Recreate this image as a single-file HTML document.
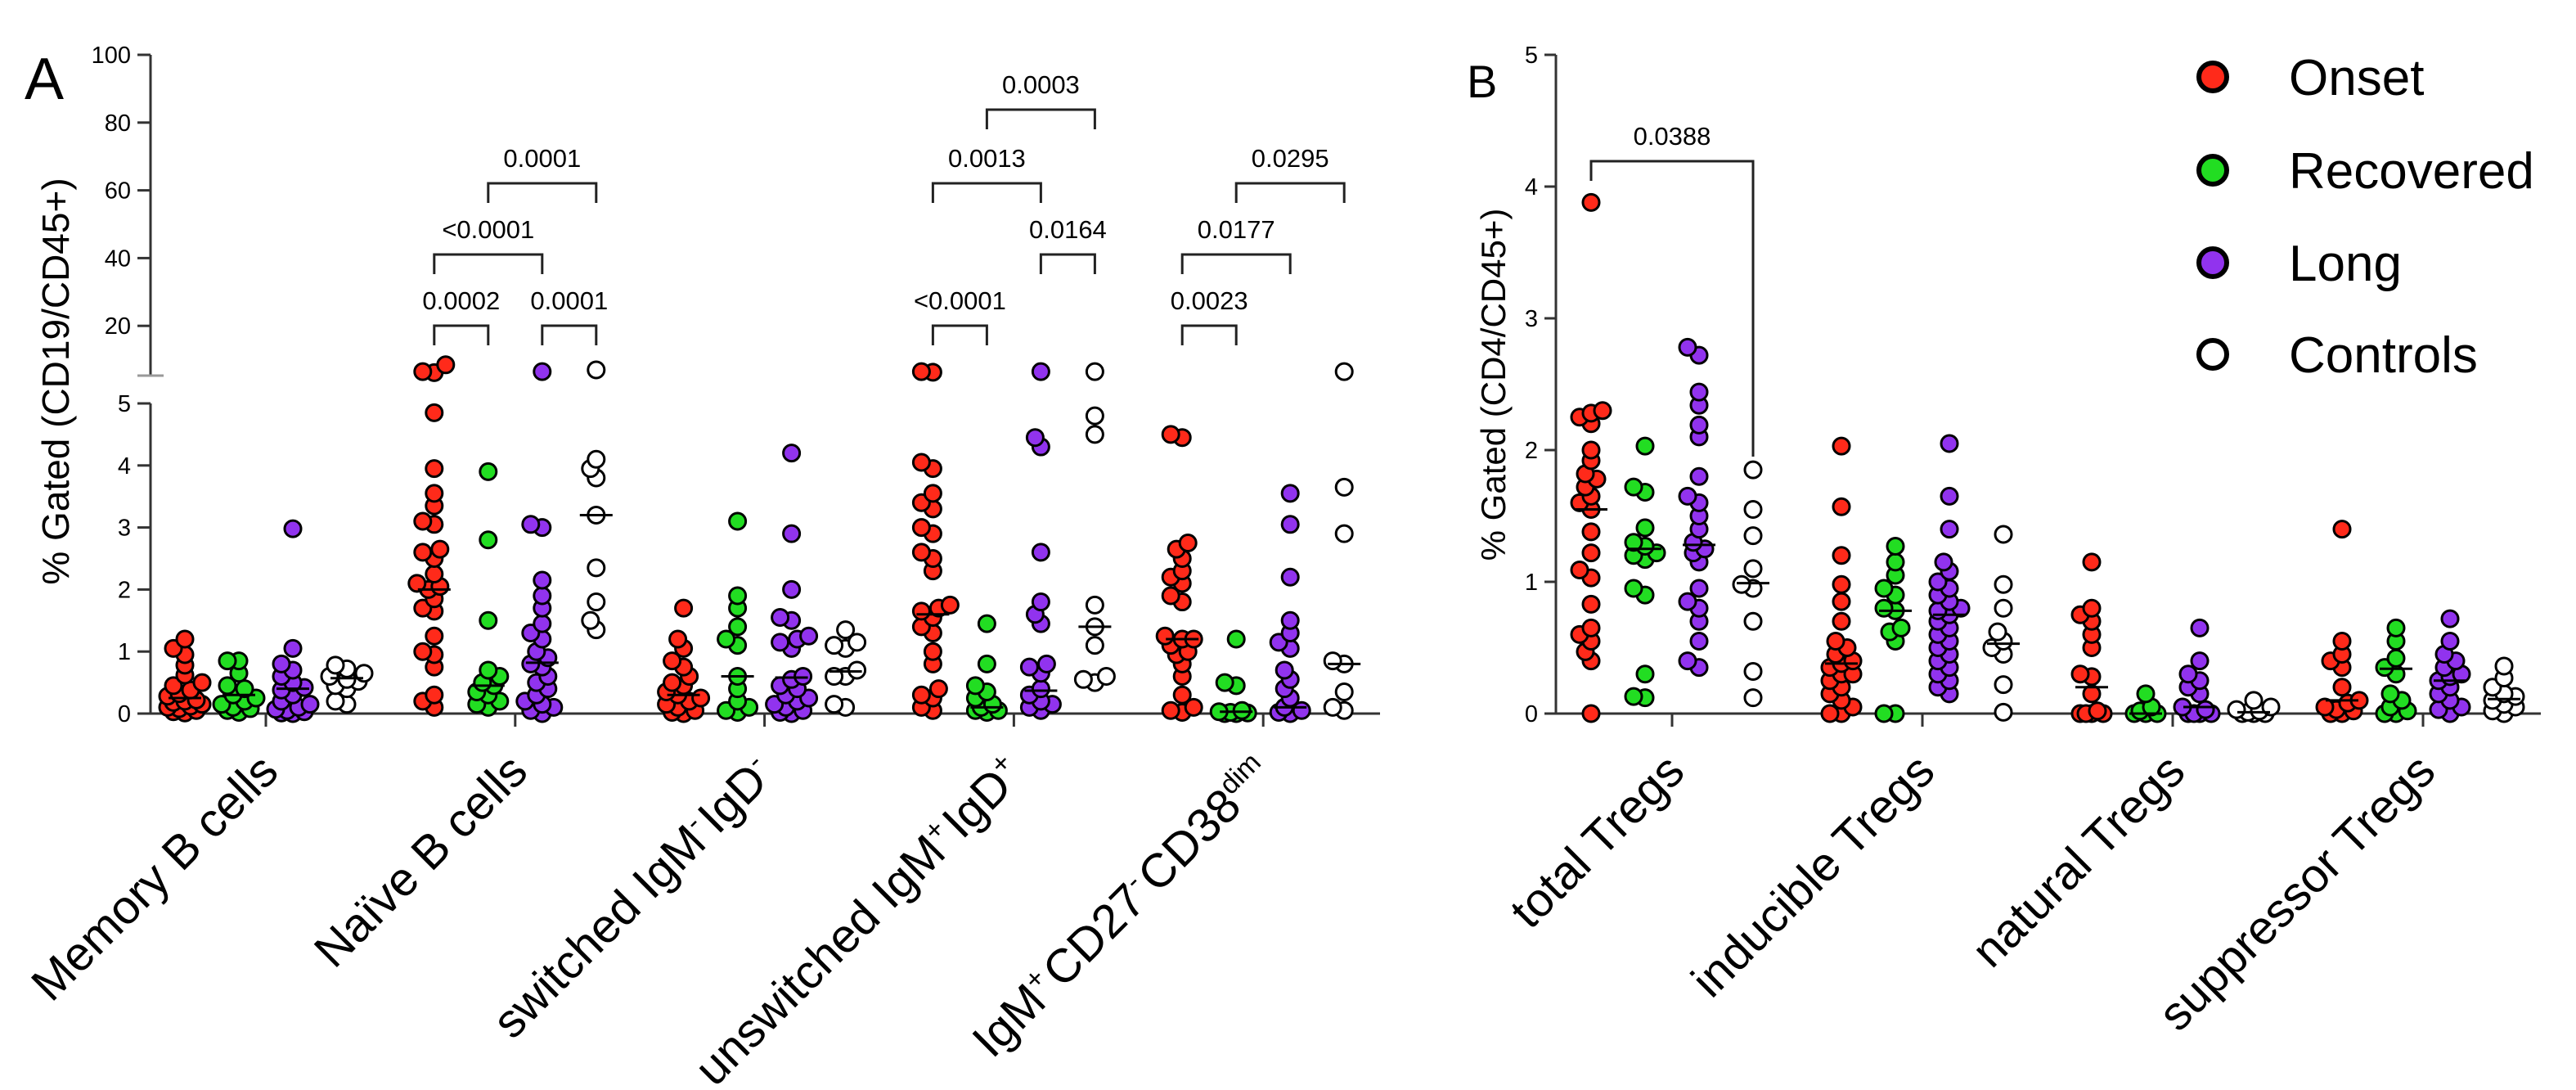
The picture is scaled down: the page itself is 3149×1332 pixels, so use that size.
<!DOCTYPE html>
<html><head><meta charset="utf-8"><style>
html,body{margin:0;padding:0;background:#fff;}
svg{display:block;font-family:"Liberation Sans",Arial,sans-serif;}
</style></head><body>
<svg id="chart" width="3149" height="1332" viewBox="0 0 3149 1332" xmlns="http://www.w3.org/2000/svg">
<rect width="3149" height="1332" fill="#fff"/>
<g id="gA"></g>
<g id="gB"></g>
</svg>
<script>
// ---------- DATA ----------
const groups = ["Onset","Recovered","Long","Controls"];
const groupColors = ["#ff2a1a","#22dd22","#9133ee","#ffffff"];
const catsA = ["Memory B cells","Naïve B cells","switched IgM-IgD-","unswitched IgM+IgD+","IgM+CD27-CD38dim"];
const catsB = ["total Tregs","inducible Tregs","natural Tregs","suppressor Tregs"];
const ticksALow = [0,1,2,3,4,5];
const ticksAHigh = [20,40,60,80,100];
const ticksB = [0,1,2,3,4,5];
// Panel A values [category][group]
const memoryB = [[1.2,1.05,0.95,0.78,0.62,0.5,0.45,0.38,0.32,0.28,0.22,0.18,0.15,0.12,0.1,0.08,0.05,0.03,0.01,0.2],
 [0.85,0.85,0.65,0.45,0.4,0.3,0.25,0.2,0.15,0.1,0.08,0.05,0.02],
 [2.98,1.05,0.8,0.7,0.6,0.5,0.42,0.38,0.3,0.2,0.15,0.1,0.07,0.05,0.03,0.01,0.0],
 [0.78,0.72,0.65,0.6,0.55,0.52,0.45,0.4,0.2,0.15]];
const naiveB = [[8.5,6.5,6.2,4.85,3.95,3.55,3.35,3.1,3.05,2.65,2.6,2.5,2.25,2.1,2.05,2.0,1.85,1.7,1.65,1.25,1.0,0.95,0.75,0.3,0.2,0.1],
 [3.9,2.8,1.5,0.7,0.6,0.5,0.45,0.35,0.3,0.2,0.15,0.1],
 [6.5,3.05,3.0,2.15,1.9,1.7,1.45,1.3,1.2,1.0,0.9,0.8,0.75,0.6,0.5,0.4,0.3,0.2,0.15,0.1,0.05,0.0],
 [7.0,4.1,3.95,3.8,3.2,2.35,1.8,1.5,1.35]];
const switchedB = [[1.7,1.2,1.05,0.85,0.75,0.6,0.5,0.45,0.35,0.3,0.25,0.2,0.15,0.1,0.05,0.02,0.0],
 [3.1,1.9,1.7,1.4,1.2,1.1,0.6,0.4,0.2,0.1,0.05,0.02],
 [4.2,2.9,2.0,1.55,1.5,1.25,1.2,1.15,1.05,0.6,0.55,0.45,0.4,0.3,0.25,0.2,0.15,0.1,0.05,0.02,0.0],
 [1.35,1.15,1.1,1.05,0.7,0.6,0.6,0.15,0.1]];
const unswitchedB = [[6.5,6.3,4.05,3.95,3.55,3.4,3.3,3.0,2.9,2.6,2.5,2.3,1.75,1.7,1.65,1.55,1.4,1.3,1.0,0.8,0.4,0.3,0.25,0.1,0.05],
 [1.45,0.8,0.45,0.35,0.25,0.15,0.1,0.05,0.05,0.02],
 [6.5,4.45,4.3,2.6,1.8,1.6,1.45,0.8,0.75,0.65,0.4,0.3,0.2,0.15,0.1,0.05],
 [6.5,4.8,4.5,1.75,1.4,1.1,0.6,0.55,0.5]];
const igmB = [[4.5,4.45,2.75,2.65,2.5,2.3,2.2,2.1,1.9,1.8,1.25,1.2,1.2,1.1,1.0,0.95,0.8,0.6,0.3,0.1,0.05,0.02],
 [1.2,0.5,0.45,0.05,0.03,0.02,0.01,0.0,0.0],
 [3.55,3.05,2.2,1.5,1.3,1.15,1.05,0.7,0.55,0.4,0.25,0.1,0.05,0.02,0.0],
 [6.5,3.65,2.9,0.85,0.8,0.35,0.1,0.05]];
const mediansA = [[0.25,0.3,0.4,0.57],[2.0,0.45,0.82,3.2],[0.3,0.6,0.58,0.68],[1.6,0.1,0.37,1.4],[1.2,0.03,0.1,0.8]];
// Panel B values
const totalT = [[3.88,2.3,2.28,2.25,2.2,2.0,1.92,1.82,1.78,1.72,1.65,1.6,1.55,1.38,1.22,1.09,1.03,0.83,0.65,0.6,0.55,0.47,0.4,0.0],
 [2.03,1.72,1.68,1.41,1.3,1.27,1.22,1.2,1.17,0.95,0.9,0.3,0.13,0.12],
 [2.78,2.72,2.44,2.34,2.19,2.1,1.8,1.65,1.6,1.5,1.4,1.3,1.25,1.22,1.15,0.95,0.85,0.8,0.7,0.55,0.4,0.35],
 [1.85,1.55,1.35,1.1,0.98,0.95,0.7,0.32,0.12]];
const inducibleT = [[2.03,1.57,1.2,0.98,0.85,0.7,0.55,0.5,0.45,0.4,0.38,0.35,0.3,0.3,0.25,0.2,0.15,0.1,0.05,0.0,0.0],
 [1.27,1.15,1.05,0.95,0.9,0.8,0.78,0.65,0.62,0.55,0.0,0.0],
 [2.05,1.65,1.4,1.15,1.08,1.0,0.95,0.9,0.85,0.8,0.78,0.75,0.7,0.65,0.6,0.55,0.5,0.45,0.4,0.35,0.3,0.25,0.2,0.15],
 [1.36,0.98,0.8,0.62,0.55,0.5,0.45,0.22,0.01]];
const naturalT = [[1.15,0.8,0.75,0.7,0.6,0.5,0.3,0.28,0.15,0.02,0.0,0.0,0.0,0.0],
 [0.15,0.05,0.02,0.0,0.0,0.0],
 [0.65,0.4,0.3,0.25,0.2,0.15,0.05,0.03,0.0,0.0,0.0,0.0],
 [0.1,0.05,0.03,0.02,0.01,0.0,0.0,0.0]];
const suppressorT = [[1.4,0.55,0.45,0.4,0.35,0.2,0.1,0.08,0.05,0.03,0.02,0.0,0.0],
 [0.65,0.55,0.42,0.35,0.3,0.15,0.1,0.05,0.02,0.0,0.0],
 [0.72,0.55,0.45,0.4,0.35,0.3,0.28,0.25,0.2,0.15,0.1,0.05,0.03,0.0],
 [0.36,0.27,0.2,0.15,0.13,0.1,0.07,0.05,0.02,0.0]];
const mediansB = [[1.55,1.25,1.28,0.99],[0.38,0.78,0.75,0.53],[0.2,0.0,0.05,0.01],[0.1,0.34,0.25,0.11]];
// significance brackets: [category, groupFrom, groupTo, level, label]
const sigA = [[1,0,1,0,"0.0002"],[1,2,3,0,"0.0001"],[1,0,2,1,"<0.0001"],[1,1,3,2,"0.0001"],
 [3,0,1,0,"<0.0001"],[3,2,3,1,"0.0164"],[3,0,2,2,"0.0013"],[3,1,3,3,"0.0003"],
 [4,0,1,0,"0.0023"],[4,0,2,1,"0.0177"],[4,1,3,2,"0.0295"]];
const dataA = [memoryB,naiveB,switchedB,unswitchedB,igmB];
const dataB = [totalT,inducibleT,naturalT,suppressorT];

// ---------- helpers ----------
const NS="http://www.w3.org/2000/svg";
function mk(parent,tag,attrs,txt){const e=document.createElementNS(NS,tag);for(const k in attrs)e.setAttribute(k,attrs[k]);if(txt!==undefined)e.textContent=txt;parent.appendChild(e);return e;}
const AX="#333";
const A_X0=184,A_X1=1687,A_CAT0=325,A_CATSTEP=304.8,GOFF=66;
const A_BASE=872,A_LOWPX=75.8,A_HIGH_Y20=398.2,A_HIGHPX=4.14;
function yA(v){return v<=5?A_BASE-v*A_LOWPX:A_HIGH_Y20-(v-20)*A_HIGHPX;}
function xA(c,g){return A_CAT0+c*A_CATSTEP+(g-1.5)*GOFF;}
const B_X0=1902,B_X1=3106,B_CAT0=2044,B_CATSTEP=306,B_BASE=872,B_PX=161;
function yB(v){return B_BASE-v*B_PX;}
function xB(c,g){return B_CAT0+c*B_CATSTEP+(g-1.5)*GOFF;}
const bracketY=[398,311,224,134];

function swarm(vals,cx,yf){
  const pts=[];const sorted=vals.map(v=>v).sort((a,b)=>a-b);
  const sep=12;
  sorted.forEach(v=>{const y=yf(v);let x=cx,best=-1,bx=cx;
    const cand=[0,-1,1,-2,2,-3,3];
    for(const c of cand){const tx=cx+c*7;
      const d=Math.min(99,...pts.map(p=>Math.hypot(p.x-tx,p.y-y)));
      if(d>=sep){x=tx;best=99;break;}
      if(d>best){best=d;bx=tx;}}
    if(best<99)x=bx;
    pts.push({x:x,y:y,v:v});});
  return pts;
}
function drawPoints(parent,vals,cx,yf,color,name){
  const g=mk(parent,"g",{});
  
  
  swarm(vals,cx,yf).forEach(p=>{
    const c=mk(g,"circle",{cx:p.x,cy:p.y,r:10,fill:color,stroke:"#000","stroke-width":3});
    
    
  });
}
function median(parent,cx,y){const l=mk(parent,"line",{x1:cx-20,x2:cx+20,y1:y,y2:y,stroke:"#000","stroke-width":3});
  
  }

// ---------- Panel A ----------
const gA=document.getElementById("gA");
let t=mk(gA,"text",{x:30,y:121,"font-size":72},"A");


t=mk(gA,"text",{x:0,y:0,"font-size":46,"text-anchor":"middle",transform:"translate(84,466) rotate(-90)"},"% Gated (CD19/CD45+)");


mk(gA,"line",{x1:A_X0,x2:A_X0,y1:yA(100),y2:459,stroke:AX,"stroke-width":3});
mk(gA,"line",{x1:A_X0-16,x2:A_X0+16,y1:459,y2:459,stroke:"#999","stroke-width":3});
mk(gA,"line",{x1:A_X0,x2:A_X0,y1:yA(5),y2:A_BASE,stroke:AX,"stroke-width":3});
mk(gA,"line",{x1:A_X0,x2:A_X1,y1:A_BASE,y2:A_BASE,stroke:AX,"stroke-width":3});
ticksALow.concat(ticksAHigh).forEach(v=>{const y=yA(v);
  mk(gA,"line",{x1:A_X0-16,x2:A_X0,y1:y,y2:y,stroke:AX,"stroke-width":3});
  const tt=mk(gA,"text",{x:A_X0-24,y:y+10,"font-size":29,"text-anchor":"end"},String(v));
  
  
});
const labelsA=[["Memory B cells"],["Naïve B cells"],["switched IgM",["-"],"IgD",["-"]],["unswitched IgM",["+"],"IgD",["+"]],["IgM",["+"],"CD27",["-"],"CD38",["dim"]]];
catsA.forEach((c,ci)=>{
  const cx=A_CAT0+ci*A_CATSTEP;
  mk(gA,"line",{x1:cx,x2:cx,y1:A_BASE,y2:A_BASE+16,stroke:AX,"stroke-width":3});
  const tx=mk(gA,"text",{x:0,y:0,"font-size":58,"text-anchor":"end",transform:`translate(${cx+18},${946}) rotate(-45)`});
  
  
  labelsA[ci].forEach(p=>{ if(Array.isArray(p)){mk(tx,"tspan",{"font-size":34,dy:-22},p[0]);mk(tx,"tspan",{dy:22},"\u200a");} else mk(tx,"tspan",{},p);});
  dataA[ci].forEach((vals,gi)=>{
    drawPoints(gA,vals,xA(ci,gi),yA,groupColors[gi],"points-"+groups[gi].toLowerCase());
    median(gA,xA(ci,gi),yA(mediansA[ci][gi]));
  });
});
sigA.forEach(s=>{const x1=xA(s[0],s[1]),x2=xA(s[0],s[2]),y=bracketY[s[3]];
  const p=mk(gA,"path",{d:`M${x1},${y+24}V${y}H${x2}V${y+24}`,fill:"none",stroke:"#222","stroke-width":3});
  
  
  const tt=mk(gA,"text",{x:(x1+x2)/2,y:y-20,"font-size":31,"text-anchor":"middle"},s[4]);
  
  
});

// ---------- Panel B ----------
const gB=document.getElementById("gB");
t=mk(gB,"text",{x:1793,y:119,"font-size":56},"B");


t=mk(gB,"text",{x:0,y:0,"font-size":42,"text-anchor":"middle",transform:"translate(1840,470) rotate(-90)"},"% Gated (CD4/CD45+)");


mk(gB,"line",{x1:B_X0,x2:B_X0,y1:yB(5),y2:B_BASE,stroke:AX,"stroke-width":3});
mk(gB,"line",{x1:B_X0,x2:B_X1,y1:B_BASE,y2:B_BASE,stroke:AX,"stroke-width":3});
ticksB.forEach(v=>{const y=yB(v);
  mk(gB,"line",{x1:B_X0-14,x2:B_X0,y1:y,y2:y,stroke:AX,"stroke-width":3});
  const tt=mk(gB,"text",{x:B_X0-22,y:y+10,"font-size":29,"text-anchor":"end"},String(v));
  
  
});
catsB.forEach((c,ci)=>{
  const cx=B_CAT0+ci*B_CATSTEP;
  mk(gB,"line",{x1:cx,x2:cx,y1:B_BASE,y2:B_BASE+16,stroke:AX,"stroke-width":3});
  const tx=mk(gB,"text",{x:0,y:0,"font-size":58,"text-anchor":"end",transform:`translate(${cx+18},${946}) rotate(-45)`},c);
  
  
  dataB[ci].forEach((vals,gi)=>{
    drawPoints(gB,vals,xB(ci,gi),yB,groupColors[gi],"points-"+groups[gi].toLowerCase());
    median(gB,xB(ci,gi),yB(mediansB[ci][gi]));
  });
});
{const x1=xB(0,0),x2=xB(0,3),y=197;
 const p=mk(gB,"path",{d:`M${x1},${y+24}V${y}H${x2}V${yB(1.95)}`,fill:"none",stroke:"#222","stroke-width":3});
 
 
 const tt=mk(gB,"text",{x:(x1+x2)/2,y:y-20,"font-size":31,"text-anchor":"middle"},"0.0388");
 
 }
// legend
const legY=[94,208,321,433];
groups.forEach((gname,i)=>{
  const g=mk(gB,"g",{});
  
  
  mk(g,"circle",{cx:2705,cy:legY[i],r:17,fill:groupColors[i],stroke:"#000","stroke-width":6});
  mk(g,"text",{x:2798,y:legY[i]+22,"font-size":62},gname);
});
</script>
</body></html>
